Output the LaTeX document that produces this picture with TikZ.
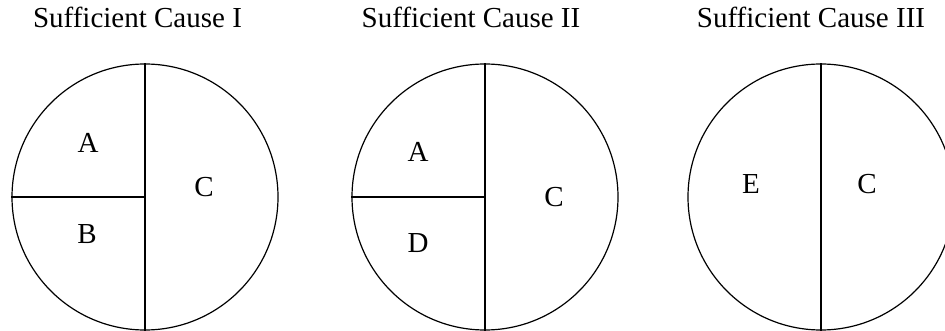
\documentclass[tikz,border=0pt]{standalone}
\usepackage{fontspec}
\setmainfont{Liberation Serif}
\usetikzlibrary{positioning}

\begin{document}
\begin{tikzpicture}[x=1pt,y=-1pt,
      cause/.style={draw,circle,line width=1.2pt,minimum size=266pt,inner sep=0pt},
      split/.style={line width=1.2pt},
      heading/.style={font=\fontsize{29}{32}\selectfont,anchor=base,inner sep=0pt},
      factor/.style={font=\fontsize{29}{32}\selectfont,inner sep=0pt}]
      \clip (0,0) rectangle (945,331);
      \node[cause] (one) at (145,197) {};
      \node[cause] (two) at (485,197) {};
      \node[cause] (three) at (821,197) {};
      \node[heading] (headone) at (137.5,28) {Sufficient Cause I};
      \node[heading] (headtwo) at (471,28) {Sufficient Cause II};
      \node[heading] (headthree) at (811,28) {Sufficient Cause III};
      \draw[split] (one.north) -- (one.south);
      \draw[split] (one.west) -- (one.center);
      \draw[split] (two.north) -- (two.south);
      \draw[split] (two.west) -- (two.center);
      \draw[split] (three.north) -- (three.south);
      \node[factor] (a1) at (88,143) {A};
      \node[factor] (b1) at (87,234) {B};
      \node[factor] (c1) at (204,187) {C};
      \node[factor] (a2) at (418,152) {A};
      \node[factor] (d2) at (418,243) {D};
      \node[factor] (c2) at (554,197) {C};
      \node[factor] (e3) at (751,184) {E};
      \node[factor] (c3) at (867,184) {C};
    \end{tikzpicture}
\end{document}
